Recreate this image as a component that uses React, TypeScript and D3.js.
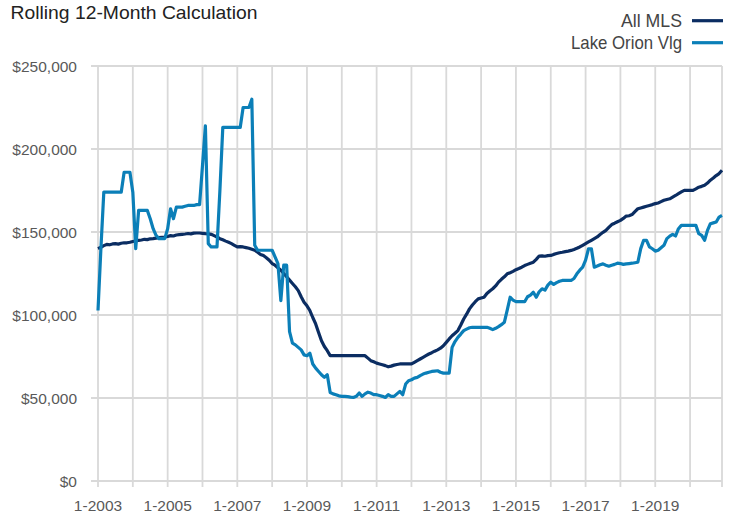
import React from "react";
import * as d3 from "d3";

const title = "Rolling 12-Month Calculation";
const seriesNames = ["All MLS", "Lake Orion Vlg"];
const startYear = 2003;
const xTickLabels = ["1-2003", "1-2005", "1-2007", "1-2009", "1-2011", "1-2013", "1-2015", "1-2017", "1-2019"];
const yTicks = [0, 50000, 100000, 150000, 200000, 250000];

// Monthly values (thousands of $), 1-2003 .. 12-2020
const allMLS = [
  140, 140.8, 141.8, 142.5, 142.3, 142.8, 143, 142.7, 143.2, 143.5,
  143.5, 143.8, 144.3, 144.6, 145, 145.2, 145.6, 145.4, 145.9, 146,
  146.3, 146.6, 146.8, 147, 147.3, 147.8, 147.6, 148.2, 148.4, 148.6,
  148.8, 149.1, 148.9, 149.3, 149.4, 149.4, 149.2, 149, 148.9, 148.6,
  147.8, 147, 146, 145.3, 144.5, 143.8, 143, 142, 141, 141.2,
  141, 140.6, 140.2, 139.6, 139, 137.8, 136.5, 135.8, 134.5, 133,
  131, 130, 128.5, 127, 125, 123, 121, 119, 117, 114.7,
  111, 107.7, 105.5, 102.7, 98.5, 94.6, 89.5, 84.5, 81, 78.5,
  75.5, 75.5, 75.5, 75.5, 75.5, 75.5, 75.5, 75.5, 75.5, 75.5,
  75.5, 75.5, 75.5, 74, 72.5, 71.8, 71, 70.5, 70, 69.5,
  68.8, 69.2, 69.8, 70.2, 70.5, 70.5, 70.5, 70.5, 70.5, 71.5,
  72.5, 73.5, 74.5, 75.5, 76.5, 77.3, 78.2, 79, 80, 81.5,
  83.5, 85.6, 87.5, 89, 90.6, 94, 97.6, 100.5, 103.7, 106,
  108, 109.7, 110.2, 110.7, 113, 114.5, 115.8, 117.5, 119.8, 121.5,
  123, 124.8, 125.5, 126.3, 127.3, 128, 128.8, 129.8, 130.5, 131.2,
  131.8, 133.5, 135.5, 135.6, 135.4, 135.8, 135.9, 136.5, 137, 137.5,
  137.8, 138.2, 138.5, 138.9, 139.5, 140.2, 141, 142, 143, 144,
  145, 146, 147, 148.5, 149.8, 151, 152.8, 154.5, 155.3, 156.2,
  157, 158.2, 159.6, 159.8, 160.5, 162.3, 164, 164.5, 165, 165.5,
  166, 166.5, 167.1, 167.5, 168.3, 169.1, 169.6, 170, 171, 172,
  173.1, 174.2, 175.1, 175.1, 175.1, 175.1, 176, 177, 177.5, 178.2,
  179.5, 181.2, 182.5, 184, 185.2, 187.2,
];

const lakeOrion = [
  102.7, 140, 174, 174, 174, 174, 174, 174, 174, 186,
  186, 186, 174, 140, 163, 163, 163, 163, 158, 152,
  148, 146, 146, 146, 152, 164, 158, 165, 165, 165,
  165.5, 166, 166, 166, 166.5, 166.5, 190, 214, 143, 141,
  141, 141, 175, 213, 213, 213, 213, 213, 213, 213,
  225, 225, 225, 230, 142, 139, 139, 139, 139, 139,
  139, 135, 131, 108.7, 130, 130, 90, 83, 82, 80.5,
  79, 76, 75.5, 77, 70.5, 68, 66, 64, 62.4, 64,
  53.3, 52.5, 52, 51.3, 51, 51, 50.8, 50.5, 50.3, 51,
  53, 51, 52.5, 53.5, 53, 52, 52, 51.5, 51, 50.3,
  52, 51, 51, 52.5, 54, 52, 58.4, 60.4, 61, 62,
  62.4, 63.5, 64.4, 65, 65.5, 66, 66.2, 66.4, 65.5, 65,
  65, 65, 80.5, 84, 86.5, 88.5, 90.6, 91.5, 92.3, 92.6,
  92.6, 92.6, 92.6, 92.6, 92.6, 92, 91.2, 92, 93, 94.2,
  95.6, 103, 110.7, 109, 108.1, 108, 108, 108, 111, 112,
  113.7, 110.7, 114, 115.8, 115, 118, 119.8, 118.4, 119.5, 120.3,
  120.8, 120.8, 120.8, 120.8, 122, 124.8, 127, 128.8, 133, 139.9,
  139.9, 128.8, 129.5, 130.3, 130.8, 130, 129.4, 130, 130.5, 131.2,
  131, 130.5, 130.8, 131, 131.2, 131.5, 131.8, 140, 145, 145,
  141, 139.9, 138.5, 139, 140.5, 142, 146, 147.5, 148.6, 147.6,
  152, 154, 154, 154, 154, 154, 154, 149, 148, 145,
  151, 155, 155.5, 156, 159, 160,
];

const colors = ["#0b2d62", "#0b7fb8"];

export default function App() {
  const width = 732;
  const height = 515;
  const left = 98;
  const right = 722;
  const top = 66;
  const bottom = 481;

  const n = allMLS.length;
  const x = d3.scaleLinear().domain([0, n - 1]).range([left, right]);
  const y = d3.scaleLinear().domain([0, 250000]).range([bottom, top]);

  const line = d3
    .line<number>()
    .x((_, i) => x(i))
    .y((d) => y(d * 1000))
    .curve(d3.curveLinear);

  const yearIdx: number[] = [];
  for (let i = 0; i < n; i += 12) yearIdx.push(i);

  const fmt = (v: number) => "$" + d3.format(",")(v);
  const grid = "#d9d9d9";
  const font = "'Liberation Sans', Arial, sans-serif";

  return (
    <svg width={width} height={height} style={{ position: "absolute", left: 0, top: 0 }}>
      <rect width={width} height={height} fill="#fff" />
      {/* horizontal gridlines */}
      {yTicks.map((t) => (
        <line key={"h" + t} x1={91} x2={right} y1={y(t)} y2={y(t)} stroke={grid} strokeWidth={1.8} />
      ))}
      {/* vertical gridlines */}
      {yearIdx.map((i) => (
        <line key={"v" + i} x1={x(i)} x2={x(i)} y1={top} y2={bottom + 6} stroke={grid} strokeWidth={1.8} />
      ))}
      <line x1={right} x2={right} y1={top} y2={bottom + 6} stroke={grid} strokeWidth={1.8} />
      <line x1={91} x2={right} y1={bottom} y2={bottom} stroke={grid} strokeWidth={2.2} />

      {/* y labels */}
      {yTicks.map((t) => (
        <text key={"yl" + t} x={77} y={y(t) + 5.5} textAnchor="end" fontFamily={font} fontSize={15.5} fill="#595959">
          {fmt(t)}
        </text>
      ))}
      {/* x labels */}
      {xTickLabels.map((lab) => {
        const yr = parseInt(lab.split("-")[1], 10);
        const i = (yr - startYear) * 12;
        return (
          <text key={lab} x={x(i)} y={510.5} textAnchor="middle" fontFamily={font} fontSize={15.5} fill="#595959">
            {lab}
          </text>
        );
      })}

      {/* series */}
      <path d={line(allMLS) || ""} fill="none" stroke={colors[0]} strokeWidth={3.2} strokeLinejoin="round" />
      <path d={line(lakeOrion) || ""} fill="none" stroke={colors[1]} strokeWidth={3.2} strokeLinejoin="round" />

      {/* title */}
      <text x={10.5} y={18.5} fontFamily={font} fontSize={19} fill="#222" textLength={247} lengthAdjust="spacingAndGlyphs">
        {title}
      </text>

      {/* legend */}
      <text x={682} y={26.7} textAnchor="end" fontFamily={font} fontSize={18.5} fill="#444" textLength={61} lengthAdjust="spacingAndGlyphs">
        {seriesNames[0]}
      </text>
      <line x1={692} x2={723} y1={20.7} y2={20.7} stroke={colors[0]} strokeWidth={3.2} />
      <text x={682} y={49.3} textAnchor="end" fontFamily={font} fontSize={18.5} fill="#444" textLength={111} lengthAdjust="spacingAndGlyphs">
        {seriesNames[1]}
      </text>
      <line x1={692} x2={723} y1={42.7} y2={42.7} stroke={colors[1]} strokeWidth={3.2} />
    </svg>
  );
}
